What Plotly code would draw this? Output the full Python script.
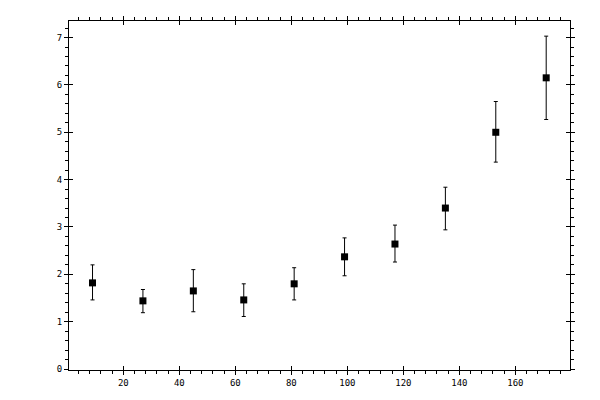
import plotly.graph_objects as go

# data
x_vals = [9, 27, 45, 63, 81, 99, 117, 135, 153, 171]
y_vals = [1.82, 1.44, 1.65, 1.46, 1.80, 2.37, 2.64, 3.40, 5.00, 6.15]
err_hi = [2.20, 1.68, 2.10, 1.80, 2.14, 2.77, 3.04, 3.84, 5.65, 7.03]
err_lo = [1.46, 1.19, 1.21, 1.11, 1.46, 1.97, 2.26, 2.94, 4.37, 5.27]

err_plus = [h - y for h, y in zip(err_hi, y_vals)]
err_minus = [y - l for l, y in zip(err_lo, y_vals)]

x_range = [0.6, 179.5]
y_range = [-0.02, 7.35]

fig = go.Figure()
fig.add_trace(go.Scatter(
    x=x_vals, y=y_vals, mode='markers',
    marker=dict(symbol='square', size=7, color='black'),
    error_y=dict(type='data', symmetric=False, array=err_plus, arrayminus=err_minus,
                 color='black', thickness=1, width=2),
    showlegend=False,
))
# invisible trace so the overlay axes (inward half of the crossing ticks) get drawn
fig.add_trace(go.Scatter(x=[x_vals[0]], y=[y_vals[0]], xaxis='x2', yaxis='y2',
                         mode='markers', marker=dict(opacity=0), showlegend=False,
                         hoverinfo='skip'))

tick_font = dict(family='DejaVu Sans Mono', size=9, color='black')

# page body has an 8px margin, so shrink the figure to keep the plot box in place
fig.update_layout(
    width=592, height=392,
    margin=dict(l=61, r=30, t=8, b=30),
    paper_bgcolor='white', plot_bgcolor='white',
    xaxis=dict(range=x_range, dtick=20, tick0=0, ticks='outside', ticklen=4,
               tickcolor='black', showline=True, linecolor='black', linewidth=1,
               mirror='ticks', showgrid=False, zeroline=False, tickfont=tick_font,
               minor=dict(dtick=4, tick0=0, ticks='outside', ticklen=3, tickcolor='black',
                          showgrid=False)),
    yaxis=dict(range=y_range, dtick=1, tick0=0, ticks='outside', ticklen=4,
               tickcolor='black', showline=True, linecolor='black', linewidth=1,
               mirror='ticks', showgrid=False, zeroline=False, tickfont=tick_font,
               minor=dict(dtick=0.2, tick0=0, ticks='outside', ticklen=3, tickcolor='black',
                          showgrid=False)),
    xaxis2=dict(overlaying='x', range=x_range, dtick=20, tick0=0, ticks='inside', ticklen=4,
                tickcolor='black', showticklabels=False, mirror='ticks', showgrid=False,
                zeroline=False),
    yaxis2=dict(overlaying='y', range=y_range, dtick=1, tick0=0, ticks='inside', ticklen=4,
                tickcolor='black', showticklabels=False, mirror='ticks', showgrid=False,
                zeroline=False),
)

fig.write_html("out.html")
